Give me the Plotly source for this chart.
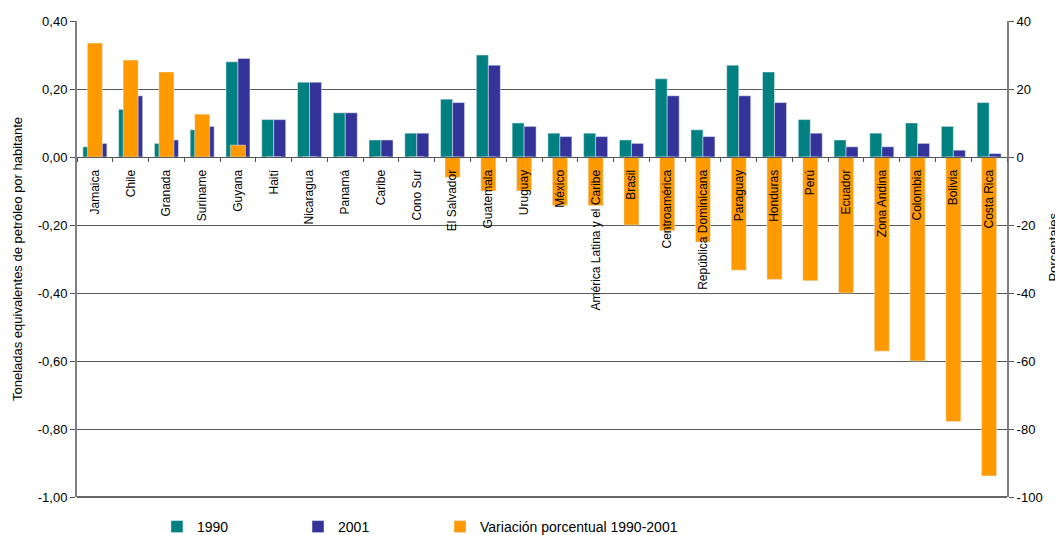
import plotly.graph_objects as go

# Categories (countries / regions)
paises = ["Jamaica", "Chile", "Granada", "Suriname", "Guyana", "Haití", "Nicaragua",
          "Panamá", "Caribe", "Cono Sur", "El Salvador", "Guatemala", "Uruguay",
          "México", "América Latina y el Caribe", "Brasil", "Centroamérica",
          "República Dominicana", "Paraguay", "Honduras", "Perú", "Ecuador",
          "Zona Andina", "Colombia", "Bolivia", "Costa Rica"]

# Toneladas equivalentes de petróleo por habitante
v1990 = [0.03, 0.14, 0.04, 0.08, 0.28, 0.11, 0.22, 0.13, 0.05, 0.07, 0.17, 0.30, 0.10,
         0.07, 0.07, 0.05, 0.23, 0.08, 0.27, 0.25, 0.11, 0.05, 0.07, 0.10, 0.09, 0.16]
v2001 = [0.04, 0.18, 0.05, 0.09, 0.29, 0.11, 0.22, 0.13, 0.05, 0.07, 0.16, 0.27, 0.09,
         0.06, 0.06, 0.04, 0.18, 0.06, 0.18, 0.16, 0.07, 0.03, 0.03, 0.04, 0.02, 0.01]
# Variación porcentual 1990-2001
variacion = [33.5, 28.5, 25.0, 12.6, 3.5, 0, 0, 0, 0, 0, -6.0, -10.0, -10.0,
             -14.3, -14.3, -20.0, -21.7, -25.0, -33.3, -36.0, -36.4, -40.0,
             -57.1, -60.0, -77.8, -93.8]

left_ticks = [0.4, 0.2, 0.0, -0.2, -0.4, -0.6, -0.8, -1.0]
left_text = ["0,40", "0,20", "0,00", "-0,20", "-0,40", "-0,60", "-0,80", "-1,00"]
right_ticks = [40, 20, 0, -20, -40, -60, -80, -100]
right_text = ["40", "20", "0", "-20", "-40", "-60", "-80", "-100"]

TEAL = "#008080"
NAVY = "#333399"
ORANGE = "#FF9900"
FONT = "Liberation Sans, Arial, sans-serif"

fig = go.Figure()
fig.add_trace(go.Bar(x=paises, y=v1990, name="1990", marker_color=TEAL,
                     width=0.335, offset=-0.335, legend="legend"))
fig.add_trace(go.Bar(x=paises, y=v2001, name="2001", marker_color=NAVY,
                     width=0.335, offset=0, legend="legend2"))
fig.add_trace(go.Bar(x=paises, y=variacion, name="Variación porcentual 1990-2001",
                     marker_color=ORANGE, width=0.42, offset=-0.21, yaxis="y2",
                     legend="legend3"))

# page has an 8px body margin, so the figure is 8px smaller than the window
leg = dict(orientation="h", xref="container", yref="container", y=0.0152,
           yanchor="middle", xanchor="left", font=dict(size=14, family=FONT),
           bgcolor="rgba(0,0,0,0)")

fig.update_layout(
    width=1055, height=527,
    margin=dict(l=69, r=56, t=13, b=38, autoexpand=False),
    paper_bgcolor="white", plot_bgcolor="white",
    font=dict(family=FONT, size=12, color="black"),
    barmode="overlay",
    showlegend=True,
    legend=dict(leg, x=0.1412),
    legend2=dict(leg, x=0.2749),
    legend3=dict(leg, x=0.4095),
    xaxis=dict(
        anchor="free", position=1 / 1.4, automargin=False,
        showline=True, linecolor="#555555", linewidth=1,
        ticks="outside", ticklen=4, tickcolor="#555555", tickson="boundaries",
        tickangle=-90, ticklabelstandoff=7,
        showgrid=False, zeroline=False,
        tickfont=dict(size=12, family=FONT),
    ),
    yaxis=dict(
        range=[-1.0, 0.4], tickvals=left_ticks, ticktext=left_text, automargin=False,
        showgrid=True, gridcolor="#5a5a5a", gridwidth=1,
        zeroline=False,
        showline=True, linecolor="#808080", linewidth=2,
        ticks="outside", ticklen=5, tickcolor="#555555",
        tickfont=dict(size=13),
        title=dict(text="Toneladas equivalentes de petróleo por habitante",
                   font=dict(size=13), standoff=12),
    ),
    yaxis2=dict(
        range=[-100, 40], tickvals=right_ticks, ticktext=right_text, automargin=False,
        overlaying="y", side="right", anchor="x",
        showgrid=False, zeroline=False,
        showline=True, linecolor="#808080", linewidth=2,
        ticks="outside", ticklen=5, tickcolor="#555555",
        tickfont=dict(size=13),
    ),
    annotations=[dict(text="Porcentajes", xref="paper", yref="paper",
                      x=1.05, y=0.525, xanchor="center", yanchor="middle",
                      textangle=-90, showarrow=False, font=dict(size=13))],
    shapes=[dict(type="line", xref="paper", yref="paper", x0=0, x1=1, y0=0, y1=0,
                 line=dict(color="#666666", width=2))],
)

fig.write_html("out.html")
